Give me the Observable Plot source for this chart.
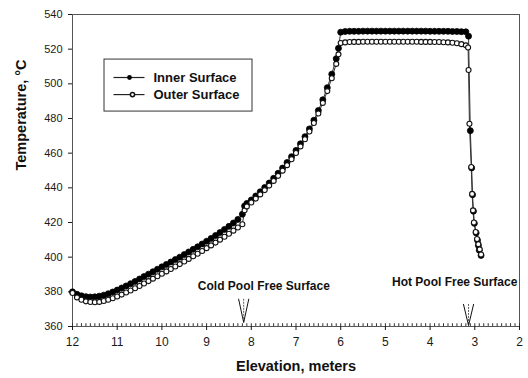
<!DOCTYPE html>
<html><head><meta charset="utf-8">
<script src="https://cdn.jsdelivr.net/npm/d3@7"></script>
<script src="https://cdn.jsdelivr.net/npm/@observablehq/plot@0.6"></script>
<style>html,body{margin:0;padding:0;background:#fff}svg{display:block}</style>
</head><body><div id="chart"></div>
<script>
// ---- data ----
const seriesNames = ["Inner Surface", "Outer Surface"];

const innerElev = [12.0,11.9,11.8,11.7,11.6,11.5,11.4,11.3,11.2,11.1,11.0,10.9,10.8,10.7,10.6,10.5,10.4,10.3,10.2,10.1,10.0,9.9,9.8,9.7,9.6,9.5,9.4,9.3,9.2,9.1,9.0,8.9,8.8,8.7,8.6,8.5,8.4,8.3,8.2,8.15,8.1,8.0,7.9,7.8,7.7,7.6,7.5,7.4,7.3,7.2,7.1,7.0,6.9,6.8,6.7,6.6,6.5,6.4,6.3,6.2,6.1,6.05,6.0,
  5.9,5.8,5.7,5.6,5.5,5.4,5.3,5.2,5.1,5.0,4.9,4.8,4.7,4.6,4.5,4.4,4.3,4.2,4.1,4.0,3.9,3.8,3.7,3.6,3.5,3.4,3.3,3.2,
  3.14,3.10,3.07,3.05,3.03,3.01,2.97,2.94,2.92,2.90,2.86];
const innerTemp = [380.0,378.6,377.7,377.2,377.0,377.1,377.5,378.1,378.9,379.9,381.0,382.2,383.4,384.7,386.0,387.4,388.8,390.2,391.6,393.0,394.4,395.8,397.2,398.6,400.0,401.5,403.0,404.5,406.0,407.6,409.2,410.8,412.5,414.2,416.0,417.8,419.7,421.8,424.8,429.5,431.0,433.0,435.3,437.7,440.2,442.8,445.5,448.4,451.4,454.6,458.0,461.6,465.4,469.5,474.0,479.0,484.6,490.8,497.8,505.6,514.5,520.5,529.8,
  530.2,530.3,530.3,530.3,530.4,530.4,530.4,530.4,530.4,530.4,530.4,530.4,530.4,530.4,530.4,530.4,530.4,530.4,530.4,530.3,530.3,530.3,530.3,530.3,530.2,530.2,530.1,530.0,
  527.5,473.0,451.5,436.0,426.5,419.5,414.0,409.8,406.8,404.0,401.0];

const outerElev = [12.0,11.9,11.8,11.7,11.6,11.5,11.4,11.3,11.2,11.1,11.0,10.9,10.8,10.7,10.6,10.5,10.4,10.3,10.2,10.1,10.0,9.9,9.8,9.7,9.6,9.5,9.4,9.3,9.2,9.1,9.0,8.9,8.8,8.7,8.6,8.5,8.4,8.3,8.2,8.15,8.1,8.0,7.9,7.8,7.7,7.6,7.5,7.4,7.3,7.2,7.1,7.0,6.9,6.8,6.7,6.6,6.5,6.4,6.3,6.2,6.1,6.05,6.0,
  5.9,5.8,5.7,5.6,5.5,5.4,5.3,5.2,5.1,5.0,4.9,4.8,4.7,4.6,4.5,4.4,4.3,4.2,4.1,4.0,3.9,3.8,3.7,3.6,3.5,3.4,3.3,3.2,
  3.15,3.14,3.12,3.08,3.06,3.04,3.02,2.98,2.95,2.92,2.89,2.86];
const outerTemp = [379.3,376.8,375.4,374.5,374.1,374.0,374.2,374.7,375.4,376.3,377.3,378.4,379.6,380.8,382.1,383.4,384.8,386.2,387.6,389.0,390.4,391.8,393.2,394.6,396.0,397.5,399.0,400.5,402.0,403.6,405.2,406.8,408.4,410.1,411.8,413.5,415.3,417.1,419.0,427.0,429.3,431.5,433.8,436.2,438.7,441.3,444.0,446.9,449.9,453.1,456.5,460.1,463.9,468.0,472.5,477.4,482.9,489.0,495.8,503.2,511.5,517.0,523.6,
  523.9,524.1,524.2,524.2,524.3,524.3,524.3,524.3,524.3,524.3,524.3,524.3,524.3,524.3,524.3,524.3,524.3,524.2,524.2,524.2,524.1,524.1,524.0,523.9,523.7,523.4,522.9,522.2,
  521.0,508.0,477.0,452.0,436.5,427.0,420.0,414.5,410.5,407.5,404.5,401.5];

const xTicks = [12,11,10,9,8,7,6,5,4,3,2];
const yTicks = [360,380,400,420,440,460,480,500,520,540];

const noteLabels = ["Cold Pool Free Surface", "Hot Pool Free Surface"];
const noteElev = [8.17, 3.14];          // where the arrows point
const noteTextElev = [7.72, 3.45];
const noteTextTemp = [383, 385.5];
const noteArrowTop = [376, 373];
const noteArrowTip = [362.3, 360.6];

// ---- build tables ----
const inner = innerElev.map((e, i) => ({e, t: innerTemp[i]}));
const outer = outerElev.map((e, i) => ({e, t: outerTemp[i]}));
const notes = noteLabels.map((label, i) => ({label, e: noteElev[i], te: noteTextElev[i], tt: noteTextTemp[i], top: noteArrowTop[i], tip: noteArrowTip[i]}));
const minorTicks = d3.range(20, 121).map(v => v / 10);

// legend layout (in data units)
const LG = {x1: 11.284, x2: 7.973, y1: 484.0, y2: 514.0, lx1: 11.083, lx2: 10.389, tx: 10.188, rows: [503.65, 493.8], mk: [10.725, 10.658]};
const legend = seriesNames.map((name, i) => ({name, y: LG.rows[i], mx: LG.mk[i]}));

const font = "'Liberation Sans', Arial, Helvetica, sans-serif";
const wing = 0.115;

const chart = Plot.plot({
  width: 528, height: 378,
  marginLeft: 72, marginRight: 9, marginTop: 14, marginBottom: 52,
  style: {fontFamily: font, fontSize: "11px", color: "#1a1a1a", background: "#fff", overflow: "visible"},
  x: {domain: [12, 2]},
  y: {domain: [360, 540]},
  marks: [
    Plot.frame({stroke: "#555", strokeWidth: 1}),
    Plot.axisY({ticks: yTicks, tickSize: 4, tickPadding: 6, label: null, fontSize: 11}),
    Plot.axisX({ticks: xTicks, tickSize: 4, tickPadding: 7, label: null, fontSize: 12}),
    Plot.ruleX(minorTicks, {x: d => d, y1: 360, y2: 361.6, stroke: "#333"}),
    // series lines
    Plot.line(inner, {x: "e", y: "t", stroke: "#333", strokeWidth: 1}),
    Plot.line(outer, {x: "e", y: "t", stroke: "#333", strokeWidth: 1}),
    Plot.dot(inner, {x: "e", y: "t", r: 3, fill: "#000", stroke: "#000", strokeWidth: 0.8}),
    Plot.dot(outer, {x: "e", y: "t", r: 2.5, fill: "#fff", stroke: "#111", strokeWidth: 1.1}),
    // annotations
    Plot.text(notes, {x: "te", y: "tt", text: "label", fontWeight: "bold", fontSize: 12, fill: "#111"}),
    Plot.link(notes, {x1: "e", x2: "e", y1: "top", y2: "tip", stroke: "#333", strokeWidth: 0.8, strokeDasharray: "2,1"}),
    Plot.link(notes, {x1: d => d.e + wing, x2: "e", y1: "top", y2: "tip", stroke: "#111", strokeWidth: 1}),
    Plot.link(notes, {x1: d => d.e - wing, x2: "e", y1: "top", y2: "tip", stroke: "#111", strokeWidth: 1}),
    // legend
    Plot.rect([0], {x1: LG.x1, x2: LG.x2, y1: LG.y1, y2: LG.y2, fill: "#fff", stroke: "#333", strokeWidth: 1}),
    Plot.link(legend, {x1: LG.lx1, x2: LG.lx2, y1: "y", y2: "y", stroke: "#222", strokeWidth: 1.2}),
    Plot.dot(legend.slice(0, 1), {x: "mx", y: "y", r: 2.4, fill: "#000"}),
    Plot.dot(legend.slice(1), {x: "mx", y: "y", r: 2.1, fill: "#fff", stroke: "#111"}),
    Plot.text(legend, {x: LG.tx, y: "y", text: "name", textAnchor: "start", fontWeight: "bold", fontSize: 13, fill: "#111"}),
    // axis titles
    Plot.text(["Elevation, meters"], {frameAnchor: "bottom", dy: 44, fontWeight: "bold", fontSize: 14.5, fill: "#111"}),
    Plot.text(["Temperature, °C"], {frameAnchor: "left", dx: -51, rotate: -90, fontWeight: "bold", fontSize: 14.5, fill: "#111"})
  ]
});
document.getElementById("chart").append(chart);
</script>
</body></html>
